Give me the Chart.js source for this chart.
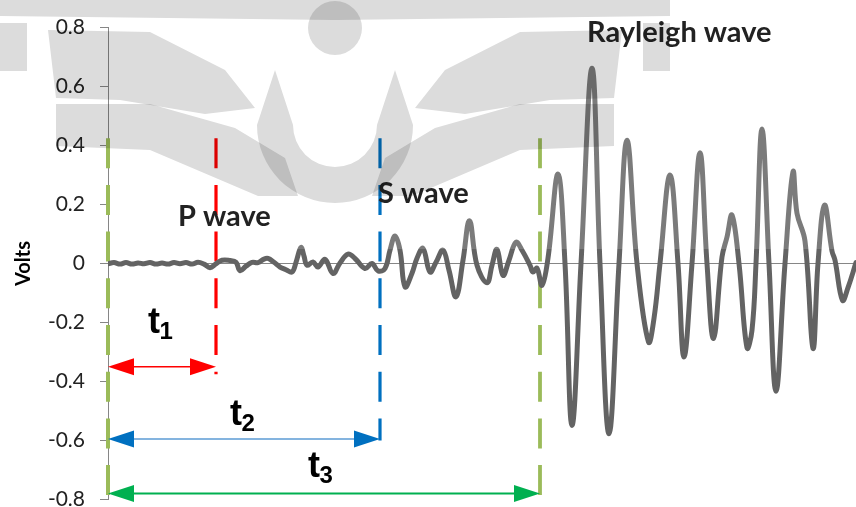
<!DOCTYPE html>
<html>
<head>
<meta charset="utf-8">
<script src="https://cdn.jsdelivr.net/npm/chart.js@4.4.1/dist/chart.umd.min.js"></script>
<style>
  html, body { margin: 0; padding: 0; background: #ffffff; overflow: hidden; }
  #wrap { width: 856px; height: 507px; overflow: hidden; position: relative; }
  canvas { display: block; }
</style>
</head>
<body>
<div id="wrap"><canvas id="seis" width="856" height="527"></canvas></div>
<script>
// Seismogram record: sample time (arbitrary units) and sensor output in volts
const sampleTime = [
  0, 6, 12, 18, 24, 30, 36, 42, 48, 54, 60, 66, 72, 78, 84, 90, 96, 102,
  108, 114, 122, 128, 132, 138, 144, 150, 156, 160, 166, 172, 178, 184,
  188, 193, 196, 199, 205, 210, 217, 225, 232, 240, 247, 257, 264, 270,
  277, 282, 287, 292, 297, 304, 309, 315, 322, 328, 335, 341, 348, 355,
  361.5, 369, 379, 384, 389, 395, 401, 408, 414, 422, 425, 429, 434, 440,
  450, 457, 464, 473, 484, 492, 501, 511, 519, 529, 540.5, 546, 552, 562,
  570, 576, 584, 592, 599, 605.5, 614, 619, 624, 631, 639, 644, 648, 654,
  661, 668, 677, 685, 689, 697, 705, 710, 716.5, 724, 727, 734.5, 740, 748
];
const volts = [
  -0.001, 0.003, -0.002, 0.003, -0.002, 0.002, -0.001, 0.003, -0.002, 0.002, -0.002, 0.003, -0.001, 0.003, -0.002, 0.004, -0.002, -0.014,
  -0.001, 0.011, 0.010, 0.004, -0.024, -0.009, 0.004, 0.003, 0.015, 0.017, 0.004, -0.012, -0.021, -0.029,
  0.004, 0.054, 0.025, -0.006, 0.005, -0.012, 0.014, -0.034, 0.002, 0.032, 0.017, -0.017, 0.000, -0.025,
  -0.017, 0.045, 0.093, 0.045, -0.079, -0.033, 0.018, 0.051, -0.029, 0.004, 0.045, -0.023, -0.113, 0.011,
  0.145, -0.006, -0.065, -0.006, 0.048, -0.040, 0.011, 0.072, 0.045, -0.006, -0.029, -0.016, -0.074, 0.018,
  0.303, 0.000, -0.549, 0.000, 0.662, 0.000, -0.577, 0.000, 0.418, 0.000, -0.266, -0.186, 0.000, 0.300,
  0.000, -0.317, 0.000, 0.376, 0.000, -0.254, 0.022, 0.090, 0.164, 0.000, -0.286, -0.226, 0.000, 0.456,
  0.000, -0.433, 0.000, 0.311, 0.170, 0.076, -0.288, 0.000, 0.198, 0.042, 0.011, -0.125, -0.082, 0.003
];

// Axis ticks (volts)
const voltTicks = [-0.8, -0.6, -0.4, -0.2, 0, 0.2, 0.4, 0.6, 0.8];

// Phase arrivals measured from the start of the record
const phaseNames = ['P wave', 'S wave', 'Rayleigh wave'];
const arrivalTime = [108, 272, 432];
const intervalIndex = ['1', '2', '3'];

const INK = '#222222';
const markerColors = ['#ff0000', '#0070c0', '#9bbb59'];
const arrowColors = ['#ff0000', '#0070c0', '#00b050'];
const arrowLineColors = ['#ff0000', '#5b9bd5', '#00b050'];

const wavePoints = sampleTime.map((t, i) => ({ x: t, y: volts[i] }));

function dashedVertical(c, x, yTop, yBottom, color, width) {
  c.save();
  c.strokeStyle = color;
  c.lineWidth = width;
  c.setLineDash([30, 16.7]);
  c.beginPath();
  c.moveTo(x, yTop);
  c.lineTo(x, yBottom);
  c.stroke();
  c.restore();
}

function doubleArrow(c, x0, x1, y, headColor, lineColor, lw) {
  const hl = 26, hw = 8.5;
  c.save();
  c.strokeStyle = lineColor;
  c.lineWidth = lw;
  c.beginPath();
  c.moveTo(x0 + hl - 2, y);
  c.lineTo(x1 - hl + 2, y);
  c.stroke();
  c.fillStyle = headColor;
  c.beginPath();
  c.moveTo(x0, y);
  c.lineTo(x0 + hl, y - hw);
  c.lineTo(x0 + hl, y + hw);
  c.closePath();
  c.fill();
  c.beginPath();
  c.moveTo(x1, y);
  c.lineTo(x1 - hl, y - hw);
  c.lineTo(x1 - hl, y + hw);
  c.closePath();
  c.fill();
  c.restore();
}

// Faint emblem printed over the upper part of the page (left half, mirrored)
const emblemHalf = [
  [[0, 0], [335, 0], [335, 20], [0, 16]],
  [[0, 23], [27, 23], [27, 71], [0, 71]],
  [[48, 30], [150, 32], [225, 70], [255, 108], [205, 114], [120, 100], [56, 98]],
  [[56, 104], [150, 104], [235, 128], [285, 158], [298, 196], [258, 196], [150, 150], [56, 146]]
];

const emblem = {
  id: 'emblem',
  afterDraw(chart) {
    const c = chart.ctx;
    const cx = 335;
    c.save();
    c.globalCompositeOperation = 'multiply';
    c.fillStyle = '#dcdcdc';
    emblemHalf.forEach(poly => {
      [1, -1].forEach(side => {
        c.beginPath();
        poly.forEach(([px, py], k) => {
          const x = cx + side * (px - cx);
          if (k === 0) c.moveTo(x, py); else c.lineTo(x, py);
        });
        c.closePath();
        c.fill();
      });
    });
    // head and bowl
    c.beginPath();
    c.arc(cx, 28, 27, 0, Math.PI * 2);
    c.fill();
    c.beginPath();
    c.arc(cx, 125, 78, 0, Math.PI, false);
    c.arc(cx, 125, 42, Math.PI, 0, true);
    c.closePath();
    c.fill();
    c.beginPath();
    c.moveTo(cx - 78, 125);
    c.lineTo(cx - 60, 70);
    c.lineTo(cx - 42, 125);
    c.closePath();
    c.fill();
    c.beginPath();
    c.moveTo(cx + 78, 125);
    c.lineTo(cx + 60, 70);
    c.lineTo(cx + 42, 125);
    c.closePath();
    c.fill();
    c.restore();
  }
};

const phaseMarkers = {
  id: 'phaseMarkers',
  beforeDatasetsDraw(chart) {
    const c = chart.ctx, xs = chart.scales.x, ys = chart.scales.y;
    const top = ys.getPixelForValue(0.425);
    // record start (time zero)
    dashedVertical(c, xs.getPixelForValue(0), top, ys.getPixelForValue(-0.79), markerColors[2], 4);
    const ends = [-0.376, -0.6, -0.79];
    const widths = [3.2, 3.2, 3.8];
    arrivalTime.forEach((t, i) => {
      dashedVertical(c, xs.getPixelForValue(t), top, ys.getPixelForValue(ends[i]), markerColors[i], widths[i]);
    });
  },
  afterDatasetsDraw(chart) {
    const c = chart.ctx, xs = chart.scales.x, ys = chart.scales.y;
    const x0 = xs.getPixelForValue(0);
    const levels = [-0.35, -0.595, -0.78];
    const lws = [1.5, 1.5, 2];
    arrivalTime.forEach((t, i) => {
      doubleArrow(c, x0, xs.getPixelForValue(t), ys.getPixelForValue(levels[i]), arrowColors[i], arrowLineColors[i], lws[i]);
    });

    // phase names
    c.save();
    c.fillStyle = INK;
    c.textBaseline = 'alphabetic';
    c.textAlign = 'left';
    c.font = 'bold 29px Lato, "Open Sans", sans-serif';
    const namePos = [[70, 0.127], [270, 0.205], [479, 0.751]];
    phaseNames.forEach((n, i) => {
      c.fillText(n, xs.getPixelForValue(namePos[i][0]), ys.getPixelForValue(namePos[i][1]));
    });

    // interval labels t1, t2, t3
    c.fillStyle = '#000000';
    const tPos = [[40, -0.237], [122, -0.549], [200, -0.725]];
    intervalIndex.forEach((k, i) => {
      const px = xs.getPixelForValue(tPos[i][0]);
      const py = ys.getPixelForValue(tPos[i][1]);
      c.font = 'bold 36px "Liberation Sans", Arial, sans-serif';
      c.fillText('t', px, py);
      const w = c.measureText('t').width;
      c.font = 'bold 24px "Liberation Sans", Arial, sans-serif';
      c.fillText(k, px + w - 0.5, py + 6);
    });
    c.restore();
  }
};

new Chart(document.getElementById('seis'), {
  type: 'line',
  data: {
    datasets: [{
      data: wavePoints,
      borderColor: (ctx) => {
        const chart = ctx.chart;
        if (!chart.chartArea) return '#636363';
        const yPix = chart.scales.y.getPixelForValue(0.05);
        const g = chart.ctx.createLinearGradient(0, 0, 0, chart.height);
        const s = Math.min(Math.max(yPix / chart.height, 0), 1);
        g.addColorStop(0, '#7b7b7b');
        g.addColorStop(s, '#7b7b7b');
        g.addColorStop(s, '#636363');
        g.addColorStop(1, '#636363');
        return g;
      },
      borderWidth: 5,
      pointRadius: 0,
      tension: 0.4,
      borderJoinStyle: 'round',
      borderCapStyle: 'round',
      fill: false
    }]
  },
  options: {
    responsive: false,
    devicePixelRatio: 1,
    animation: false,
    events: [],
    layout: { padding: { top: 27.5, right: 0, bottom: 27.5, left: 0 } },
    plugins: { legend: { display: false }, tooltip: { enabled: false } },
    scales: {
      x: {
        type: 'linear',
        min: 0,
        max: 748,
        display: false
      },
      y: {
        min: -0.8,
        max: 0.8,
        afterBuildTicks: (scale) => { scale.ticks = voltTicks.map(v => ({ value: v })); },
        afterFit: (scale) => { scale.width = 108; },
        border: { display: true, color: '#868686', width: 1 },
        grid: {
          drawOnChartArea: true,
          drawTicks: true,
          tickLength: 8,
          tickColor: '#868686',
          color: (ctx) => (ctx.tick && ctx.tick.value === 0 ? '#868686' : 'rgba(0,0,0,0)'),
          lineWidth: 1
        },
        ticks: {
          padding: 15,
          color: INK,
          font: { family: 'Lato, "Open Sans", sans-serif', size: 21 },
          callback: (v) => String(Math.round(v * 10) / 10)
        },
        title: {
          display: true,
          text: 'Volts',
          color: '#000000',
          font: { family: 'Lato, "Open Sans", sans-serif', size: 20, weight: 'bold' },
          padding: { top: 12, bottom: 0 }
        }
      }
    }
  },
  plugins: [phaseMarkers, emblem]
});
</script>
</body>
</html>
